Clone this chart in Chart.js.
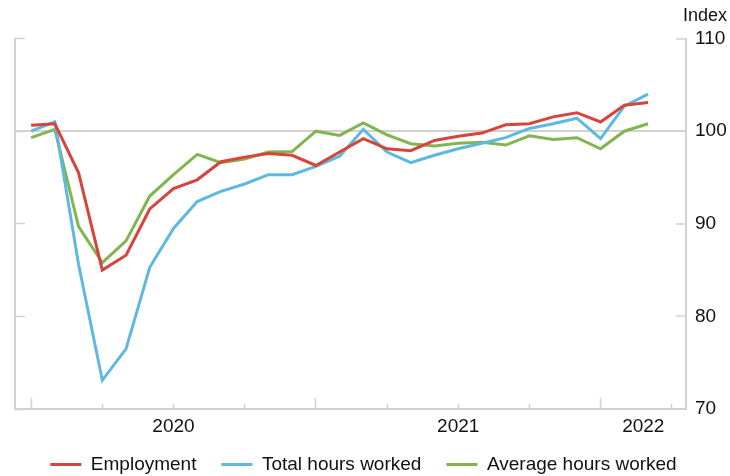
<!DOCTYPE html>
<html>
<head>
<meta charset="utf-8">
<script src="https://cdn.jsdelivr.net/npm/chart.js@4.4.1/dist/chart.umd.min.js"></script>
<style>
  html, body { margin: 0; padding: 0; background: #fff; }
  #wrap { width: 730px; height: 476px; }
</style>
</head>
<body>
<div id="wrap"><canvas id="chart" width="730" height="476"></canvas></div>
<script>
// monthly, Jan 2020 .. Mar 2022 (index 0 = Jan 2020)
var months = [
  "2020-01","2020-02","2020-03","2020-04","2020-05","2020-06","2020-07","2020-08","2020-09","2020-10","2020-11","2020-12",
  "2021-01","2021-02","2021-03","2021-04","2021-05","2021-06","2021-07","2021-08","2021-09","2021-10","2021-11","2021-12",
  "2022-01","2022-02","2022-03"
];
var employment = [100.65, 100.8, 95.5, 85.0, 86.6, 91.6, 93.8, 94.75, 96.7, 97.2, 97.6, 97.4,
  96.3, 97.75, 99.2, 98.1, 97.9, 99.0, 99.45, 99.8, 100.7, 100.8, 101.55, 102.0,
  101.0, 102.8, 103.1];
var totalHours = [100.0, 101.0, 85.6, 73.1, 76.5, 85.3, 89.5, 92.4, 93.5, 94.3, 95.3, 95.3,
  96.2, 97.3, 100.2, 97.75, 96.6, 97.4, 98.1, 98.7, 99.3, 100.3, 100.8, 101.4,
  99.2, 102.7, 104.0];
var avgHours = [99.3, 100.2, 89.7, 85.8, 88.15, 93.0, 95.3, 97.5, 96.6, 97.0, 97.75, 97.8,
  100.0, 99.55, 100.9, 99.6, 98.65, 98.4, 98.7, 98.8, 98.5, 99.5, 99.1, 99.3,
  98.1, 100.0, 100.8];

// x ticks: quarter marks plus the year label spots
var quarterTicks = [0, 3, 6, 9, 12, 15, 18, 21, 24, 27];
var yearStarts = [0, 12, 24];
var yearLabels = ["2020", "2021", "2022"];
var yearLabelAt = [6, 18, 25.8];
var yTicks = [70, 80, 90, 100, 110];

var FONT = "'Liberation Sans', Arial, Helvetica, sans-serif";
var GREY = "#d2d2d2";

function series(vals){
  return vals.map(function(v, i){ return {x: i, y: v}; });
}

function mkSet(label, vals, col){
  return {
    label: label,
    data: series(vals),
    borderColor: col,
    backgroundColor: col,
    borderWidth: 3,
    pointRadius: 0,
    pointStyle: "line",
    tension: 0
  };
}

var allXTicks = quarterTicks.concat([25.8]).sort(function(a, b){ return a - b; });

new Chart(document.getElementById("chart"), {
  type: "line",
  data: {
    datasets: [
      mkSet("Employment", employment, "#d6443c"),
      mkSet("Total hours worked", totalHours, "#5fb8e0"),
      mkSet("Average hours worked", avgHours, "#84b450")
    ]
  },
  options: {
    responsive: false,
    animation: false,
    layout: { padding: { left: 0, right: 3, top: 0, bottom: -8 } },
    plugins: {
      title: {
        display: true,
        text: "Index",
        align: "end",
        color: "#111",
        font: { family: FONT, size: 18, weight: "normal" },
        padding: { top: 5, bottom: 12 }
      },
      legend: {
        position: "bottom",
        labels: {
          usePointStyle: true,
          pointStyleWidth: 31,
          color: "#111",
          font: { family: FONT, size: 19 },
          padding: 25
        }
      },
      tooltip: { enabled: false }
    },
    scales: {
      x: {
        type: "linear",
        position: "bottom",
        min: -0.68,
        max: 27.6,
        afterBuildTicks: function(scale){
          scale.ticks = allXTicks.map(function(v){ return {value: v}; });
        },
        afterFit: function(scale){ scale.height = 21; },
        ticks: {
          autoSkip: false,
          maxRotation: 0,
          // mirrored so the year labels are not clipped to the short axis box
          mirror: true,
          padding: -29.4,
          color: "#111",
          font: { family: FONT, size: 19 },
          callback: function(v){
            var k = yearLabelAt.indexOf(v);
            return k >= 0 ? yearLabels[k] : "";
          }
        },
        grid: {
          drawOnChartArea: false,
          drawTicks: true,
          tickLength: -11,
          tickWidth: 1.5,
          tickColor: function(ctx){
            var v = ctx.tick ? ctx.tick.value : null;
            return quarterTicks.indexOf(v) >= 0 ? GREY : "rgba(0,0,0,0)";
          },
          tickBorderDash: function(ctx){
            var v = ctx.tick ? ctx.tick.value : null;
            return yearStarts.indexOf(v) >= 0 ? [] : [6, 40];
          }
        },
        border: { display: true, color: GREY, width: 2 }
      },
      y: {
        position: "right",
        min: 70,
        max: 110,
        afterBuildTicks: function(scale){
          scale.ticks = yTicks.map(function(v){ return {value: v}; });
        },
        afterFit: function(scale){ scale.width = 41; },
        ticks: {
          padding: 19,
          color: "#111",
          font: { family: FONT, size: 19 }
        },
        grid: {
          drawOnChartArea: true,
          drawTicks: true,
          tickLength: -10,
          tickWidth: 1.5,
          tickColor: GREY,
          lineWidth: 2,
          color: function(ctx){
            return ctx.tick && ctx.tick.value === 100 ? GREY : "rgba(0,0,0,0)";
          }
        },
        border: { display: true, color: GREY, width: 2 }
      },
      yl: {
        position: "left",
        min: 70,
        max: 110,
        afterBuildTicks: function(scale){
          scale.ticks = yTicks.map(function(v){ return {value: v}; });
        },
        afterFit: function(scale){ scale.width = 15; },
        ticks: { display: false },
        grid: {
          drawOnChartArea: false,
          drawTicks: true,
          tickLength: -10,
          tickWidth: 1.5,
          tickColor: GREY
        },
        border: { display: true, color: GREY, width: 2 }
      }
    }
  }
});
</script>
</body>
</html>
